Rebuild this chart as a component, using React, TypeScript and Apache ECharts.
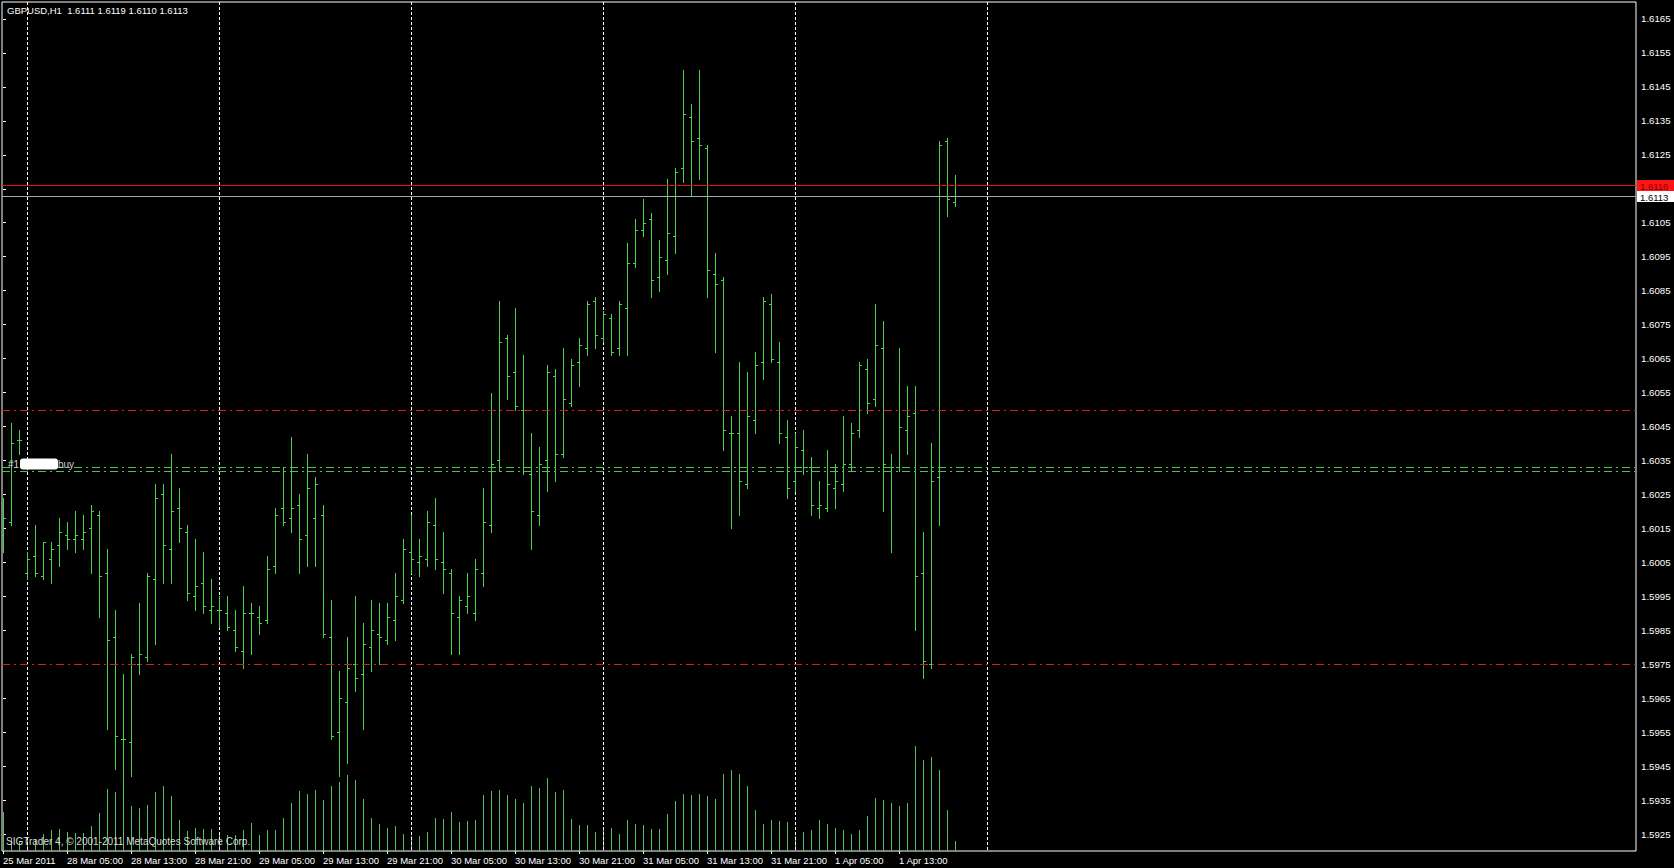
import React, { useEffect, useRef } from "react";
import * as echarts from "echarts";

// ---- data ----
const symbolName = "GBPUSD";
const timeframe = "H1";
const opens = [
  1.6013, 1.6017, 1.6041, 1.6002, 1.6007, 1.6001, 1.6006, 1.6010, 1.6013, 1.6012,
  1.6012, 1.6015, 1.6019, 1.6002, 1.5983, 1.5953, 1.5952, 1.5975, 1.5977, 1.6000,
  1.6025, 1.6009, 1.6021, 1.6014, 1.5995, 1.5999, 1.5991, 1.5991, 1.5990, 1.5985,
  1.5979, 1.5990, 1.5989, 1.5988, 1.6004, 1.6021, 1.6018, 1.6022, 1.6013, 1.6018,
  1.6019, 1.5983, 1.5955, 1.5964, 1.5975, 1.5972, 1.5980, 1.5984, 1.5982, 1.5988,
  1.5994, 1.6008, 1.6005, 1.6006, 1.6016, 1.6005, 1.6002, 1.5989, 1.5992, 1.5990,
  1.6002, 1.6016, 1.6035, 1.6071, 1.6061, 1.6050, 1.6031, 1.6019, 1.6035, 1.6060,
  1.6037, 1.6052, 1.6064, 1.6068, 1.6082, 1.6071, 1.6077, 1.6068, 1.6080, 1.6093,
  1.6103, 1.6106, 1.6089, 1.6094, 1.6101, 1.6121, 1.6136, 1.6130, 1.6127, 1.6090,
  1.6088, 1.6043, 1.6043, 1.6028, 1.6047, 1.6064, 1.6081, 1.6064, 1.6042, 1.6029,
  1.6038, 1.6033, 1.6021, 1.6021, 1.6027, 1.6028, 1.6034, 1.6044, 1.6062, 1.6053,
  1.6068, 1.6033, 1.6033, 1.6044, 1.6049, 1.6002, 1.5975, 1.6030, 1.6129, 1.6111,
];
const highs = [
  1.6024, 1.6046, 1.6044, 1.6008, 1.6016, 1.6011, 1.6011, 1.6018, 1.6017, 1.6020,
  1.6019, 1.6022, 1.6020, 1.6009, 1.5991, 1.5972, 1.5978, 1.5993, 1.6002, 1.6028,
  1.6028, 1.6037, 1.6027, 1.6016, 1.6012, 1.6008, 1.6000, 1.5995, 1.5995, 1.5991,
  1.5998, 1.5993, 1.5992, 1.6007, 1.6021, 1.6033, 1.6042, 1.6025, 1.6037, 1.6030,
  1.6022, 1.5994, 1.5973, 1.5983, 1.5995, 1.5987, 1.5994, 1.5993, 1.5993, 1.6002,
  1.6012, 1.6019, 1.6012, 1.6020, 1.6024, 1.6014, 1.6003, 1.5995, 1.6002, 1.6006,
  1.6027, 1.6055, 1.6082, 1.6072, 1.6080, 1.6066, 1.6043, 1.6039, 1.6063, 1.6062,
  1.6068, 1.6065, 1.6071, 1.6082, 1.6083, 1.6079, 1.6078, 1.6082, 1.6099, 1.6106,
  1.6112, 1.6108, 1.6100, 1.6118, 1.6121, 1.6150, 1.6140, 1.6150, 1.6128, 1.6096,
  1.6089, 1.6048, 1.6064, 1.6061, 1.6067, 1.6083, 1.6084, 1.6070, 1.6047, 1.6043,
  1.6044, 1.6036, 1.6029, 1.6038, 1.6034, 1.6048, 1.6046, 1.6064, 1.6065, 1.6081,
  1.6076, 1.6037, 1.6068, 1.6057, 1.6057, 1.6014, 1.6040, 1.6129, 1.6130, 1.6119,
];
const lows = [
  1.6008, 1.6016, 1.6037, 1.6000, 1.6001, 1.6000, 1.5999, 1.6004, 1.6009, 1.6008,
  1.6009, 1.6002, 1.5989, 1.5956, 1.5944, 1.5935, 1.5942, 1.5972, 1.5976, 1.5981,
  1.5999, 1.5999, 1.6011, 1.5994, 1.5991, 1.5990, 1.5987, 1.5986, 1.5985, 1.5979,
  1.5974, 1.5978, 1.5984, 1.5987, 1.6002, 1.6016, 1.6014, 1.6002, 1.6004, 1.6004,
  1.5983, 1.5953, 1.5942, 1.5946, 1.5967, 1.5956, 1.5973, 1.5975, 1.5981, 1.5982,
  1.5993, 1.6002, 1.6001, 1.6004, 1.6003, 1.5996, 1.5978, 1.5978, 1.5990, 1.5988,
  1.5998, 1.6014, 1.6032, 1.6053, 1.6050, 1.6031, 1.6009, 1.6016, 1.6026, 1.6029,
  1.6036, 1.6051, 1.6057, 1.6066, 1.6068, 1.6070, 1.6066, 1.6066, 1.6066, 1.6092,
  1.6101, 1.6083, 1.6085, 1.6090, 1.6096, 1.6117, 1.6113, 1.6118, 1.6083, 1.6067,
  1.6038, 1.6015, 1.6019, 1.6027, 1.6043, 1.6059, 1.6064, 1.6040, 1.6024, 1.6026,
  1.6031, 1.6019, 1.6018, 1.6020, 1.6021, 1.6026, 1.6032, 1.6042, 1.6049, 1.6051,
  1.6020, 1.6008, 1.6032, 1.6037, 1.5985, 1.5971, 1.5974, 1.6016, 1.6107, 1.6110,
];
const closes = [
  1.6018, 1.6040, 1.6041, 1.6006, 1.6002, 1.6011, 1.6009, 1.6014, 1.6012, 1.6013,
  1.6014, 1.6020, 1.6001, 1.5982, 1.5954, 1.5953, 1.5977, 1.5978, 1.6001, 1.6024,
  1.6010, 1.6020, 1.6015, 1.5996, 1.5998, 1.5992, 1.5992, 1.5991, 1.5986, 1.5980,
  1.5990, 1.5990, 1.5987, 1.6003, 1.6019, 1.6017, 1.6021, 1.6012, 1.6027, 1.6028,
  1.5984, 1.5954, 1.5965, 1.5974, 1.5971, 1.5981, 1.5985, 1.5983, 1.5989, 1.5995,
  1.6009, 1.6006, 1.6007, 1.6017, 1.6006, 1.6003, 1.5990, 1.5994, 1.5995, 1.6003,
  1.6017, 1.6034, 1.6070, 1.6060, 1.6051, 1.6032, 1.6020, 1.6034, 1.6061, 1.6037,
  1.6053, 1.6063, 1.6069, 1.6081, 1.6072, 1.6078, 1.6067, 1.6081, 1.6093, 1.6103,
  1.6105, 1.6088, 1.6095, 1.6102, 1.6120, 1.6137, 1.6129, 1.6128, 1.6091, 1.6087,
  1.6044, 1.6043, 1.6029, 1.6048, 1.6063, 1.6082, 1.6065, 1.6043, 1.6027, 1.6039,
  1.6033, 1.6022, 1.6022, 1.6028, 1.6029, 1.6034, 1.6043, 1.6063, 1.6052, 1.6069,
  1.6034, 1.6033, 1.6045, 1.6048, 1.6001, 1.5976, 1.6029, 1.6128, 1.6112, 1.6113,
];
const volumes = [
  390, 120, 100, 120, 120, 170, 210, 220, 190, 180,
  180, 250, 380, 620, 595, 500, 450, 430, 460, 595,
  655, 555, 310, 200, 230, 225, 220, 180, 160, 160,
  210, 280, 160, 215, 210, 330, 485, 600, 570, 610,
  510, 650, 690, 760, 710, 520, 330, 270, 230, 250,
  170, 150, 150, 190, 330, 320, 390, 290, 300, 310,
  560, 600, 610, 560, 520, 480, 650, 630, 730, 590,
  610, 320, 260, 260, 190, 220, 230, 170, 310, 270,
  260, 220, 220, 370, 500, 570, 560, 570, 550, 520,
  770, 810, 770, 650, 410, 270, 310, 300, 290, 150,
  190, 210, 310, 270, 230, 210, 170, 210, 350, 530,
  510, 480, 450, 480, 1050, 910, 940, 810, 410, 100,
];
const timeTickIndex = [0, 8, 16, 24, 32, 40, 48, 56, 64, 72, 80, 88, 96, 104, 112];
const timeTickLabels = [
  "25 Mar 2011", "28 Mar 05:00", "28 Mar 13:00", "28 Mar 21:00", "29 Mar 05:00",
  "29 Mar 13:00", "29 Mar 21:00", "30 Mar 05:00", "30 Mar 13:00", "30 Mar 21:00",
  "31 Mar 05:00", "31 Mar 13:00", "31 Mar 21:00", "1 Apr 05:00", "1 Apr 13:00",
];
const priceTicks = [
  1.5925, 1.5935, 1.5945, 1.5955, 1.5965, 1.5975, 1.5985, 1.5995, 1.6005, 1.6015,
  1.6025, 1.6035, 1.6045, 1.6055, 1.6065, 1.6075, 1.6085, 1.6095, 1.6105, 1.6115,
  1.6125, 1.6135, 1.6145, 1.6155, 1.6165,
];
const daySeparators = [3, 27, 51, 75, 99, 123];
const askPrice = 1.6116;
const bidPrice = 1.6113;
const stopLevels = [1.6050, 1.5975];
const orderLevels = [1.6033, 1.6032];
const orderLabelStart = "#1";
const orderLabelEnd = "buy";
const copyrightText = "SIGTrader 4, \u00a9 2001-2011 MetaQuotes Software Corp.";

const FONT = "'Liberation Sans', Arial, sans-serif";
const BAR_COLOR = "#4cd24c";
const VOL_COLOR = "#58c058";
const DASH_DOT = [8, 4, 2, 4];

// level kinds: 0 stop (red dash-dot), 1 order w/ label, 2 order, 3 bid, 4 ask
const levelRows = [
  ...stopLevels.map((p) => [0, p, 0]),
  [0, orderLevels[0], 1],
  [0, orderLevels[1], 2],
  [0, bidPrice, 3],
  [0, askPrice, 4],
];

export default function App() {
  const ref = useRef<HTMLDivElement>(null);
  useEffect(() => {
    document.body.style.margin = "0";
    document.body.style.background = "#000";
    const chart = echarts.init(ref.current!, null, { renderer: "svg" });
    const last = opens.length - 1;
    const title = `${symbolName},${timeframe}  ${opens[last].toFixed(4)} ${highs[last].toFixed(4)} ${lows[last].toFixed(4)} ${closes[last].toFixed(4)}`;
    const ohlc = opens.map((o, i) => [i, o, highs[i], lows[i], closes[i]]);
    const vol = volumes.map((v, i) => [i, v]);
    const sep = daySeparators.map((d) => [d, 1.6]);

    const renderBar = (_p: any, api: any) => {
      const i = api.value(0);
      const o = api.coord([i, api.value(1)]);
      const h = api.coord([i, api.value(2)]);
      const l = api.coord([i, api.value(3)]);
      const c = api.coord([i, api.value(4)]);
      const x = Math.round(o[0]) + 0.5;
      const sy = (v: number) => Math.round(v) + 0.5;
      const style = { stroke: BAR_COLOR, lineWidth: 1, fill: null };
      return {
        type: "group",
        children: [
          { type: "line", shape: { x1: x, y1: Math.round(h[1]), x2: x, y2: Math.round(l[1]) + 1 }, style },
          { type: "line", shape: { x1: x - 2.5, y1: sy(o[1]), x2: x + 0.5, y2: sy(o[1]) }, style },
          { type: "line", shape: { x1: x - 0.5, y1: sy(c[1]), x2: x + 2.5, y2: sy(c[1]) }, style },
        ],
      };
    };
    const renderVol = (_p: any, api: any) => {
      const i = api.value(0);
      const top = api.coord([i, api.value(1)]);
      const base = api.coord([i, 0]);
      const x = Math.round(top[0]) + 0.5;
      return {
        type: "line",
        shape: { x1: x, y1: Math.round(top[1]), x2: x, y2: Math.round(base[1]) },
        style: { stroke: VOL_COLOR, lineWidth: 1, fill: null },
      };
    };
    const renderSep = (p: any, api: any) => {
      const cs = p.coordSys;
      const pt = api.coord([api.value(0), api.value(1)]);
      const x = Math.round(pt[0]) + 0.5;
      return {
        type: "line",
        shape: { x1: x, y1: cs.y, x2: x, y2: cs.y + cs.height },
        style: { stroke: "#ffffff", lineWidth: 1, lineDash: [3, 2], fill: null },
      };
    };
    const renderLevel = (p: any, api: any) => {
      const cs = p.coordSys;
      const price = api.value(1);
      const kind = api.value(2);
      const y = Math.round(api.coord([0, price])[1]) + 0.5;
      const x0 = cs.x;
      const x1 = cs.x + cs.width;
      const colors = ["#d02020", "#52c052", "#52c052", "#a4a8ac", "#e01010"];
      const line: any = {
        type: "line",
        shape: { x1: x0, y1: y, x2: x1, y2: y },
        style: { stroke: colors[kind], lineWidth: 1, fill: null, lineDash: kind <= 2 ? DASH_DOT : null },
      };
      const children: any[] = [line];
      if (kind === 1) {
        children.push(
          { type: "text", z2: 5, style: { text: orderLabelStart, x: x0 + 6, y: y + 2, verticalAlign: "bottom", fill: "#d0d0d0", fontSize: 10, fontFamily: FONT } },
          { type: "rect", z2: 6, shape: { x: x0 + 18, y: y - 9, width: 38, height: 11, r: 3 }, style: { fill: "#ffffff" } },
          { type: "text", z2: 5, style: { text: orderLabelEnd, x: x0 + 56, y: y + 2, verticalAlign: "bottom", fill: "#d0d0d0", fontSize: 10, fontFamily: FONT } },
        );
      }
      if (kind === 3 || kind === 4) {
        const bg = kind === 4 ? "#ff1414" : "#ffffff";
        const fg = kind === 4 ? "#800000" : "#000000";
        children.push(
          { type: "rect", shape: { x: x1 + 1, y: y - 5.5, width: 40, height: 11 }, style: { fill: bg } },
          { type: "text", style: { text: price.toFixed(4), x: x1 + 4, y: y + 0.5, verticalAlign: "middle", fill: fg, fontSize: 9.5, fontFamily: FONT } },
        );
      }
      return { type: "group", children };
    };

    chart.setOption({
      animation: false,
      backgroundColor: "#000",
      textStyle: { fontFamily: FONT },
      grid: { left: 2, top: 2, right: 38, bottom: 17, show: true, borderColor: "#ffffff", borderWidth: 1 },
      xAxis: {
        type: "value",
        min: -0.125,
        max: 204.125,
        axisLine: { show: false },
        splitLine: { show: false },
        axisTick: { show: true, length: 3, lineStyle: { color: "#fff" }, customValues: timeTickIndex },
        axisLabel: {
          customValues: timeTickIndex,
          color: "#fff",
          fontSize: 9.5,
          fontFamily: FONT,
          align: "left",
          margin: 4,
          formatter: (v: number) => {
            const k = timeTickIndex.indexOf(Math.round(v));
            return k >= 0 ? timeTickLabels[k] : "";
          },
        },
      },
      yAxis: [
        {
          type: "value",
          position: "right",
          min: 1.592,
          max: 1.617,
          axisLine: { show: false },
          splitLine: { show: false },
          axisTick: { show: true, length: 3, lineStyle: { color: "#fff" }, customValues: priceTicks },
          axisLabel: {
            customValues: priceTicks,
            color: "#fff",
            fontSize: 9.7,
            fontFamily: FONT,
            margin: 5,
            formatter: (v: number) => v.toFixed(4),
          },
        },
        { type: "value", min: 0, max: 8490, show: false },
      ],
      graphic: [
        { type: "text", left: 7, top: 5, style: { text: title, fill: "#ffffff", fontSize: 9.5, fontFamily: FONT } },
        { type: "text", left: 6, top: 836, z: 10, style: { text: copyrightText, fill: "#d8d8d8", fontSize: 10, fontFamily: FONT } },
      ],
      series: [
        { type: "custom", yAxisIndex: 1, data: vol, renderItem: renderVol, clip: true, silent: true, z: 1, encode: { x: 0, y: 1 } },
        { type: "custom", data: sep, renderItem: renderSep, clip: false, silent: true, z: 2, encode: { x: 0, y: 1 } },
        { type: "custom", data: ohlc, renderItem: renderBar, clip: true, silent: true, z: 3, encode: { x: 0, y: [1, 2, 3, 4] } },
        { type: "custom", data: levelRows, renderItem: renderLevel, clip: false, silent: true, z: 4, encode: { x: 0, y: 1 } },
      ],
    });
    return () => chart.dispose();
  }, []);
  return <div ref={ref} style={{ width: 1674, height: 868, background: "#000" }} />;
}
